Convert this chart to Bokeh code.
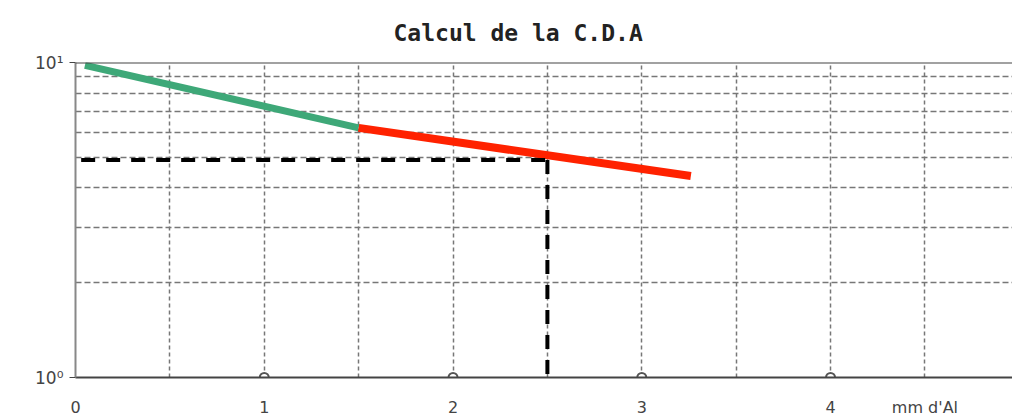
from bokeh.plotting import figure
from bokeh.models import Range1d, FixedTicker, Span
from bokeh.embed import file_html
from bokeh.resources import INLINE

# data
green_x = [0.05, 1.5]
green_y = [9.8, 6.2]
red_x = [1.5, 3.26]
red_y = [6.2, 4.36]
dash_h_x = [0.03, 2.5]
dash_h_y = [4.9, 4.9]
dash_v_x = [2.5, 2.5]
dash_v_y = [4.9, 1.0]
circle_x = [1, 2, 3, 4]
circle_y = [1, 1, 1, 1]
x_ticks = [0, 1, 2, 3, 4, 4.5]
x_labels = {4.5: "mm d'Al"}
x_grid = [0.5, 1, 1.5, 2, 2.5, 3, 3.5, 4, 4.5]
y_ticks = [1, 10]
y_labels = {1: "10⁰", 10: "10¹"}

p = figure(width=1012, height=419, y_axis_type="log", output_backend="svg",
           toolbar_location=None, x_range=Range1d(0, 4.964), y_range=Range1d(1, 10),
           min_border_left=75, min_border_right=0, min_border_top=62, min_border_bottom=41)
p.outline_line_color = None
p.background_fill_color = "white"

p.title.text = "Calcul de la C.D.A"
p.title.align = "left"
p.title.offset = 318
p.title.text_font = "DejaVu Sans Mono"
p.title.text_font_size = "23px"
p.title.text_font_style = "bold"
p.title.text_color = "#222222"
p.title.standoff = 33

# axes
p.xaxis.ticker = FixedTicker(ticks=x_ticks)
p.xaxis.major_label_overrides = x_labels
p.xaxis.axis_line_color = "#444444"
p.xaxis.axis_line_width = 2
p.xaxis.major_tick_line_color = None
p.xaxis.minor_tick_line_color = None
p.xaxis.major_label_text_font = "DejaVu Sans"
p.xaxis.major_label_text_font_size = "16px"
p.xaxis.major_label_text_color = "#444444"
p.xaxis.major_label_standoff = 14

p.yaxis.ticker = FixedTicker(ticks=y_ticks, minor_ticks=[2, 3, 4, 5, 6, 7, 8, 9])
p.yaxis.major_label_overrides = y_labels
p.yaxis.axis_line_color = "#888888"
p.yaxis.axis_line_width = 2
p.yaxis.major_tick_line_color = "#444444"
p.yaxis.major_tick_in = 0
p.yaxis.major_tick_out = 6
p.yaxis.minor_tick_line_color = None
p.yaxis.major_label_text_font = "DejaVu Sans"
p.yaxis.major_label_text_font_size = "17px"
p.yaxis.major_label_text_color = "#444444"
p.yaxis.major_label_standoff = 6

# grids
p.xgrid.ticker = FixedTicker(ticks=x_grid)
p.xgrid.grid_line_color = "#777777"
p.xgrid.grid_line_dash = "4 3"
p.xgrid.grid_line_width = 1.5
p.ygrid.grid_line_color = None
p.ygrid.minor_grid_line_color = "#777777"
p.ygrid.minor_grid_line_dash = "6 3"
p.ygrid.minor_grid_line_width = 1.5

top = Span(location=10, dimension="width", line_color="#444444", line_width=2)
p.add_layout(top)

p.line(green_x, green_y, line_color="#3ea878", line_width=7)
p.line(red_x, red_y, line_color="#ff2200", line_width=8)
p.line(dash_h_x, dash_h_y, line_color="black", line_width=4, line_dash="14 11")
p.line(dash_v_x, dash_v_y, line_color="black", line_width=4, line_dash="14 11")
p.scatter(circle_x, circle_y, marker="circle", size=9, fill_color="white",
          line_color="#555555", line_width=2)

open("out.html", "w").write(file_html(p, INLINE))
